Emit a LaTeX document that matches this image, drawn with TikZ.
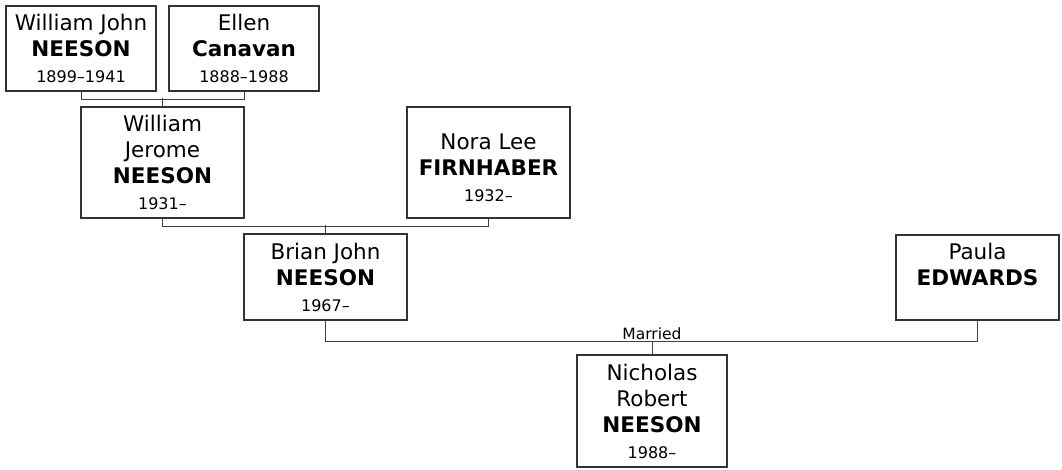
\documentclass[tikz,border=0pt]{standalone}
\usepackage{fontspec}
\setmainfont{DejaVu Sans}
\newcommand{\yrs}{\fontsize{16}{26}\selectfont}
\tikzset{
  person/.style={draw=black!80, line width=1.2pt, align=center, inner sep=0pt,
    font=\fontsize{21.5}{26}\selectfont},
  link/.style={draw=black!75, line width=0.9pt}
}
\begin{document}
\begin{tikzpicture}[
    x=1pt,
    y=-1pt
]
\useasboundingbox (0,0) rectangle (1062,470);

\node[person, minimum width=150, minimum height=85] (wjn) at (81,48.5)
  {William John\\\textbf{NEESON}\\{\yrs 1899--1941}};
\node[person, minimum width=150, minimum height=85] (ec) at (244,48.5)
  {Ellen\\\textbf{Canavan}\\{\yrs 1888--1988}};

\node[person, minimum width=163, minimum height=111] (wjer) at (162.5,162.5)
  {William\\Jerome\\\textbf{NEESON}\\{\yrs 1931--}};
\node[person, minimum width=163, minimum height=111] (nlf) at (488.5,162.5)
  {\mbox{}\\Nora Lee\\\textbf{FIRNHABER}\\{\yrs 1932--}};

\node[person, minimum width=163, minimum height=86] (bjn) at (325.5,277)
  {Brian John\\\textbf{NEESON}\\{\yrs 1967--}};
\node[person, minimum width=163, minimum height=85] (pe) at (977.5,277.5)
  {Paula\\\textbf{EDWARDS}\\{\yrs\mbox{}}};

\node[person, minimum width=150, minimum height=112] (nrn) at (652,411)
  {Nicholas\\Robert\\\textbf{NEESON}\\{\yrs 1988--}};

% family bars
\draw[link] (wjn.south) -- ++(0,8) -| (ec.south);
\draw[link] (wjer.north) -- ++(0,-8);

\draw[link] (wjer.south) -- ++(0,8) -| (nlf.south);
\draw[link] (bjn.north) -- ++(0,-8);

\draw[link] (bjn.south) -- ++(0,21) coordinate (mbar) -| (pe.south);
\node[above, inner sep=1.5pt, font=\fontsize{15.5}{18}\selectfont] (married) at (nrn.north |- mbar) {Married};
\draw[link] (nrn.north) -- (married.south);
\end{tikzpicture}
\end{document}
